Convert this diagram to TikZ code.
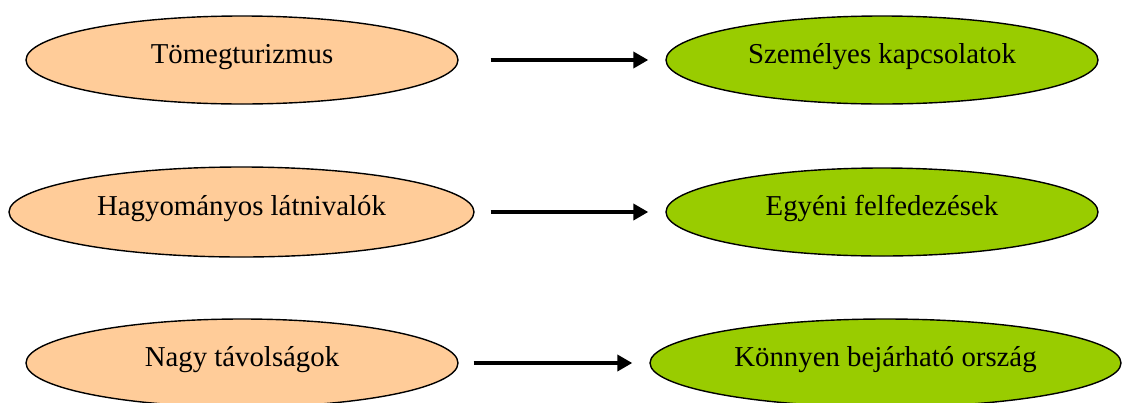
\documentclass[tikz,border=0pt]{standalone}
\usepackage{fontspec}
\setmainfont{Liberation Serif}
\usepackage{xcolor}
\usepackage{tikz}
\usetikzlibrary{shapes.geometric,arrows.meta}
\definecolor{regiorange}{HTML}{FFCC99}
\definecolor{ujgreen}{HTML}{99CC00}
\tikzset{
    every node/.style={
        align=center,
        font=\fontsize{14.4}{17}\selectfont
    },
    regi/.style={
        ellipse, draw, line width=0.7pt, fill=regiorange,
        inner sep=0pt, text height=8pt, text depth=5pt,
        minimum width=216pt, minimum height=44pt
    },
    uj/.style={
        regi, fill=ujgreen
    },
    nyil/.style={
        -{Triangle[length=7.5pt,width=8pt]}, line width=2pt
    }
}

\begin{document}
\begin{tikzpicture}[x=0.5pt, y=-0.5pt]
\useasboundingbox (0,0) rectangle (1122,402);

\node[regi] (tomeg) at (242,60) {Tömegturizmus};
\node[uj] (szemely) at (882,60) {Személyes kapcsolatok};

\node[regi, minimum width=232.5pt, minimum height=45pt] (hagyom) at (241.5,212) {Hagyományos látnivalók};
\node[uj] (egyeni) at (882,212) {Egyéni felfedezések};

\node[regi] (tavol) at (242,363) {Nagy távolságok};
\node[uj, minimum width=235.5pt] (konnyu) at (885.5,363) {Könnyen bejárható ország};

\draw[nyil, shorten <=16pt, shorten >=8.5pt] (tomeg) -- (szemely);
\draw[nyil, shorten <=8pt, shorten >=8.5pt] (hagyom) -- (egyeni);
\draw[nyil, shorten <=7.5pt, shorten >=8.5pt] (tavol) -- (konnyu);
\end{tikzpicture}
\end{document}
